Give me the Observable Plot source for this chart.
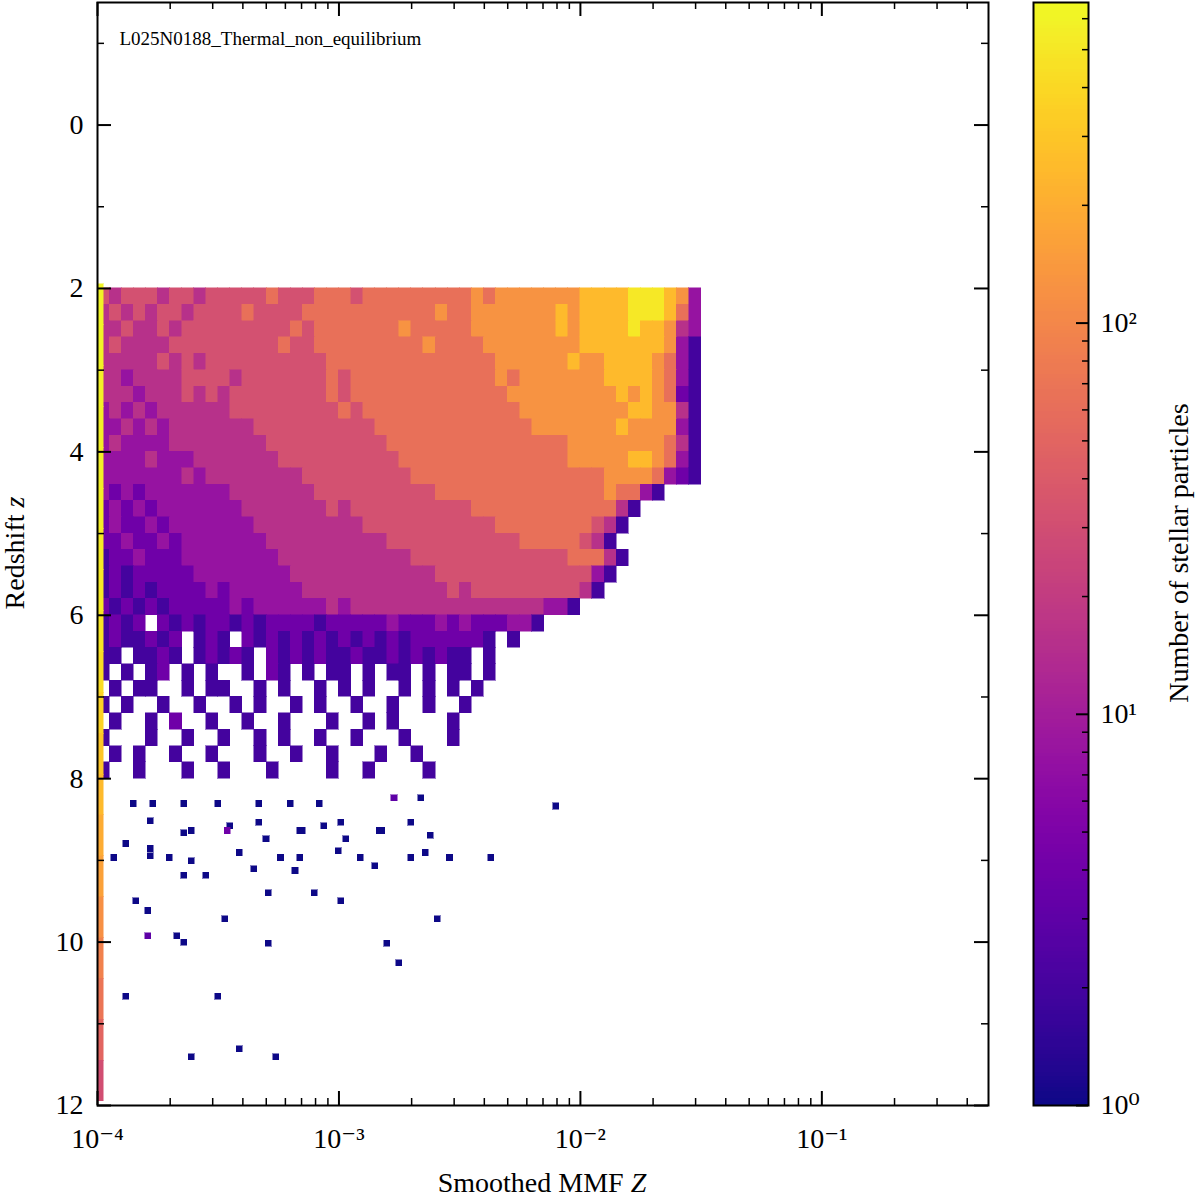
<!DOCTYPE html>
<html><head><meta charset="utf-8">
<script src="https://cdn.jsdelivr.net/npm/d3@7"></script>
<script src="https://cdn.jsdelivr.net/npm/@observablehq/plot@0.6"></script>
<style>body{margin:0;background:#fff}#wrap{position:relative;width:1200px;height:1200px}#main,#cbar{position:absolute;top:0}#main{left:0}#cbar{left:1000px}</style>
</head><body><div id="wrap"><div id="main"></div><div id="cbar"></div></div>
<script>
// Dense 2D histogram: rows start at z = 2.0, step 0.2; columns start at log10 Z = -4, step 0.05
// characters: level L -> count 10^(0.3 L), '.' = empty
const rowZ0 = 2.0, rowStep = 0.2, colX0 = -4, colStep = 0.05;
const denseRows = [
"5455545545 5555655566 6566666666 6767777777 8888999873",
"4545455455 5565555666 6666666676 6777777787 8888999863",
"4454454555 5555556566 6666676666 6777777787 8888988743",
"4544445555 5555565566 6666666766 6677777777 8888888731",
"4444454545 5555555556 6666666666 6667777778 7788887631",
"4434444555 5455555556 5666666666 6667677777 7788887631",
"4443444545 4555555556 5666666666 6666777777 7778787621",
"3434344444 4555555555 6566666666 6666677777 7777887741",
"3343434444 4445555555 5556666666 6666667777 7778777731",
"3433334444 4444555555 5555666666 6666666667 7777777641",
"3333433344 4444455555 5555566666 6666666667 7777887631",
"3333333434 4444444555 5555556666 6666666666 6677776321",
"3232333333 3444444455 5555555566 6666666666 6676631...",
"2323233333 3344444445 4555555555 5666666666 66641.....",
"2322323333 3334444444 4455555555 5556666666 6541......",
"2232232333 3333444444 4444555555 5555566666 541.......",
"1223222333 3333344444 4444445555 5555555556 6641......",
"1212222233 3333334444 4444444455 5555555555 531.......",
"1212122223 2333333444 4444444445 4555555555 41........",
"2121212222 2323333334 3444444444 4444444331 ..........",
"1212.21212 2121222212 2222322232 3222331... ..........",
"1211212.12 1.21212121 2121212222 221.1..... ..........",
"11.1121.12 121.212121 1211212121 1.1....... ..........",
"1.1.12.1.1 ..1.21.1.1 1.1.11.1.1 1.1....... ..........",
".1.11..1.1 1..1.1..1. 1.1..1.1.1 .1........ ..........",
"1.1..1..1. .1.1..1.1. .1..1..1.. 1......... ..........",
".1..1.2..1 ..1..1...1 ..1.1....1 .......... ..........",
"1...1..1.. 1..1.1..1. .1...1...1 .......... ..........",
".1.1..1..1 ...1..1..1 ...1..1... .......... ..........",
"1..1...1.. 1...1....1 ..1....1.. .......... .........."
];
// Sparse cells beyond z = 8: [log10 Z, z, count]
const sparse = [
[-3.85,8.31,1],[-3.77,8.31,1],[-3.64,8.31,1],[-3.50,8.31,1],[-3.33,8.31,1],[-3.20,8.31,1],[-3.08,8.31,1],[-2.77,8.24,3],[-2.66,8.24,1],[-2.10,8.34,1],
[-3.78,8.52,1],[-3.61,8.64,1],[-3.45,8.58,1],[-3.33,8.54,1],[-3.16,8.64,1],[-2.99,8.54,1],[-2.83,8.64,1],[-2.70,8.54,1],
[-3.88,8.80,1],[-3.78,8.86,1],[-3.64,8.67,1],[-3.46,8.64,4],[-3.30,8.74,1],[-3.15,8.64,1],[-3.06,8.58,1],[-2.97,8.74,1],[-2.82,8.64,1],[-2.62,8.70,1],
[-3.93,8.97,1],[-3.78,8.95,1],[-3.70,8.97,1],[-3.61,9.01,1],[-3.41,8.91,1],[-3.24,8.97,1],[-3.16,8.97,1],[-3.00,8.89,1],[-2.91,8.97,1],[-2.70,8.97,1],[-2.54,8.97,1],[-2.37,8.97,1],
[-3.64,9.19,1],[-3.55,9.19,1],[-3.35,9.11,1],[-3.18,9.13,1],[-2.85,9.07,1],[-2.64,8.91,1],
[-3.29,9.40,1],[-3.10,9.40,1],[-2.99,9.50,1],[-3.84,9.50,1],[-3.79,9.62,1],[-3.47,9.72,1],[-2.59,9.72,1],
[-3.79,9.93,3],[-3.67,9.93,1],[-3.64,10.01,1],[-3.29,10.02,1],[-2.80,10.02,1],[-2.75,10.26,1],
[-3.88,10.67,1],[-3.50,10.67,1],[-3.61,11.41,1],[-3.41,11.31,1],[-3.26,11.41,1]
];
// Edge column at Z = 1e-4 (clipped values): z from 1.95 in steps of 0.5
const edgeZ0 = 1.95, edgeStep = 0.5;
const edgeCounts = [600,600,580,560,560,540,520,500,480,420,360,300,250,200,160,120,90,70,50,30];
const xTicks = [1e-4,1e-3,1e-2,1e-1];
const xTickLabels = ["10⁻⁴","10⁻³","10⁻²","10⁻¹"];
const yTicks = [0,2,4,6,8,10,12];
const cbTicks = [1,10,100];
const cbTickLabels = ["10⁰","10¹","10²"];

const cmax = 660;
const colorOpt = {type:"log", scheme:"plasma", domain:[1,cmax]};
const binW = 0.025, binH = 0.075;
const cells = [];
denseRows.forEach((r,i)=>{
  const s = r.replace(/ /g,"");
  [...s].forEach((c,k)=>{
    if (c===".") return;
    cells.push({x1:Math.pow(10,colX0+k*colStep), x2:Math.pow(10,colX0+(k+1)*colStep),
      y1:rowZ0+i*rowStep, y2:rowZ0+(i+1)*rowStep, v:Math.pow(10,0.3*(+c))});
  });
});
sparse.forEach(([lx,z,v])=>cells.push({x1:Math.pow(10,lx-binW/2),x2:Math.pow(10,lx+binW/2),y1:z-binH/2,y2:z+binH/2,v}));
edgeCounts.forEach((v,i)=>cells.push({x1:1e-4,x2:Math.pow(10,-4+binW),y1:edgeZ0+i*edgeStep,y2:edgeZ0+(i+1)*edgeStep,v}));

const xmin=1e-4,xmax=0.49,ymin=-1.5,ymax=12;
const minX=[];
for (let e=-4;e<0;e++) for (let m=2;m<10;m++){const v=m*Math.pow(10,e); if(v<xmax) minX.push(v);}
const minY=[]; for(let v=-1;v<12;v+=1) if(v%2!==0) minY.push(v);
const yU = (ymax-ymin)/1103, xU = Math.log10(xmax/xmin)/891;
const f=(d)=>Math.pow(10,d*xU);
const serif = "Liberation Serif, DejaVu Serif, serif";

const main = Plot.plot({
  width:1000, height:1200, marginLeft:97, marginRight:12, marginTop:2, marginBottom:95,
  style:{fontFamily:serif, fontSize:"28px", background:"#fff"},
  x:{type:"log", domain:[xmin,xmax], axis:null},
  y:{domain:[ymin,ymax], reverse:true, axis:null},
  color:colorOpt,
  marks:[
    Plot.rect(cells,{x1:"x1",x2:"x2",y1:"y1",y2:"y2",fill:"v",stroke:"v",strokeWidth:0.5,shapeRendering:"crispEdges"}),
    Plot.ruleX(xTicks,{x:d=>d,y1:ymax,y2:ymax-14*yU,stroke:"black",strokeWidth:2}),
    Plot.ruleX(xTicks,{x:d=>d,y1:ymin,y2:ymin+14*yU,stroke:"black",strokeWidth:2}),
    Plot.ruleX(minX,{x:d=>d,y1:ymax,y2:ymax-7*yU,stroke:"black",strokeWidth:1.5}),
    Plot.ruleX(minX,{x:d=>d,y1:ymin,y2:ymin+7*yU,stroke:"black",strokeWidth:1.5}),
    Plot.ruleY(yTicks,{y:d=>d,x1:xmin,x2:xmin*f(14),stroke:"black",strokeWidth:2}),
    Plot.ruleY(yTicks,{y:d=>d,x1:xmax,x2:xmax/f(14),stroke:"black",strokeWidth:2}),
    Plot.ruleY(minY,{y:d=>d,x1:xmin,x2:xmin*f(7),stroke:"black",strokeWidth:1.5}),
    Plot.ruleY(minY,{y:d=>d,x1:xmax,x2:xmax/f(7),stroke:"black",strokeWidth:1.5}),
    Plot.text(xTicks,{x:d=>d,y:ymax,text:(d,i)=>xTickLabels[i],dy:34,fontSize:28,fill:"black"}),
    Plot.text(yTicks,{x:xmin,y:d=>d,text:d=>String(d),dx:-14,textAnchor:"end",fontSize:28,fill:"black"}),
    Plot.text(["L025N0188_Thermal_non_equilibrium"],{x:xmin,y:ymin,text:d=>d,dx:22,dy:36,textAnchor:"start",fontSize:19,fill:"black"}),
    Plot.frame({stroke:"black",strokeWidth:2})
  ]
});
const ms = d3.select(main);
ms.append("text").attr("x",542).attr("y",1192).attr("text-anchor","middle").attr("font-family",serif).attr("font-size",28)
  .html('Smoothed MMF <tspan font-style="italic">Z</tspan>');
ms.append("text").attr("transform","translate(24,553) rotate(-90)").attr("text-anchor","middle").attr("font-family",serif).attr("font-size",28)
  .html('Redshift <tspan font-style="italic">z</tspan>');
document.getElementById("main").appendChild(main);

// colorbar
const steps=[]; const N=300; for(let i=0;i<N;i++){steps.push({a:Math.pow(cmax,i/N),b:Math.pow(cmax,(i+1)/N)});}
const cbMinor=[]; for(let e=0;e<3;e++) for(let m=2;m<10;m++){const v=m*Math.pow(10,e); if(v<cmax) cbMinor.push(v);}
const cb = Plot.plot({
  width:200, height:1200, marginLeft:33, marginRight:112, marginTop:2, marginBottom:95,
  style:{fontFamily:serif, fontSize:"28px", background:"transparent"},
  x:{domain:[0,1], axis:null},
  y:{type:"log", domain:[1,cmax], axis:null},
  color:colorOpt,
  marks:[
    Plot.rect(steps,{x1:0,x2:1,y1:"a",y2:"b",fill:d=>Math.sqrt(d.a*d.b),stroke:d=>Math.sqrt(d.a*d.b),strokeWidth:1,shapeRendering:"crispEdges"}),
    Plot.ruleY(cbTicks,{y:d=>d,x1:1,x2:1-12/55,stroke:"black",strokeWidth:2}),
    Plot.ruleY(cbMinor,{y:d=>d,x1:1,x2:1-6/55,stroke:"black",strokeWidth:1.5}),
    Plot.text(cbTicks,{x:1,y:d=>d,text:(d,i)=>cbTickLabels[i],dx:12,textAnchor:"start",fontSize:28,fill:"black"}),
    Plot.frame({stroke:"black",strokeWidth:2})
  ]
});
d3.select(cb).append("text").attr("transform","translate(188,553) rotate(-90)").attr("text-anchor","middle").attr("font-family",serif).attr("font-size",28).text("Number of stellar particles");
document.getElementById("cbar").appendChild(cb);
</script></body></html>
